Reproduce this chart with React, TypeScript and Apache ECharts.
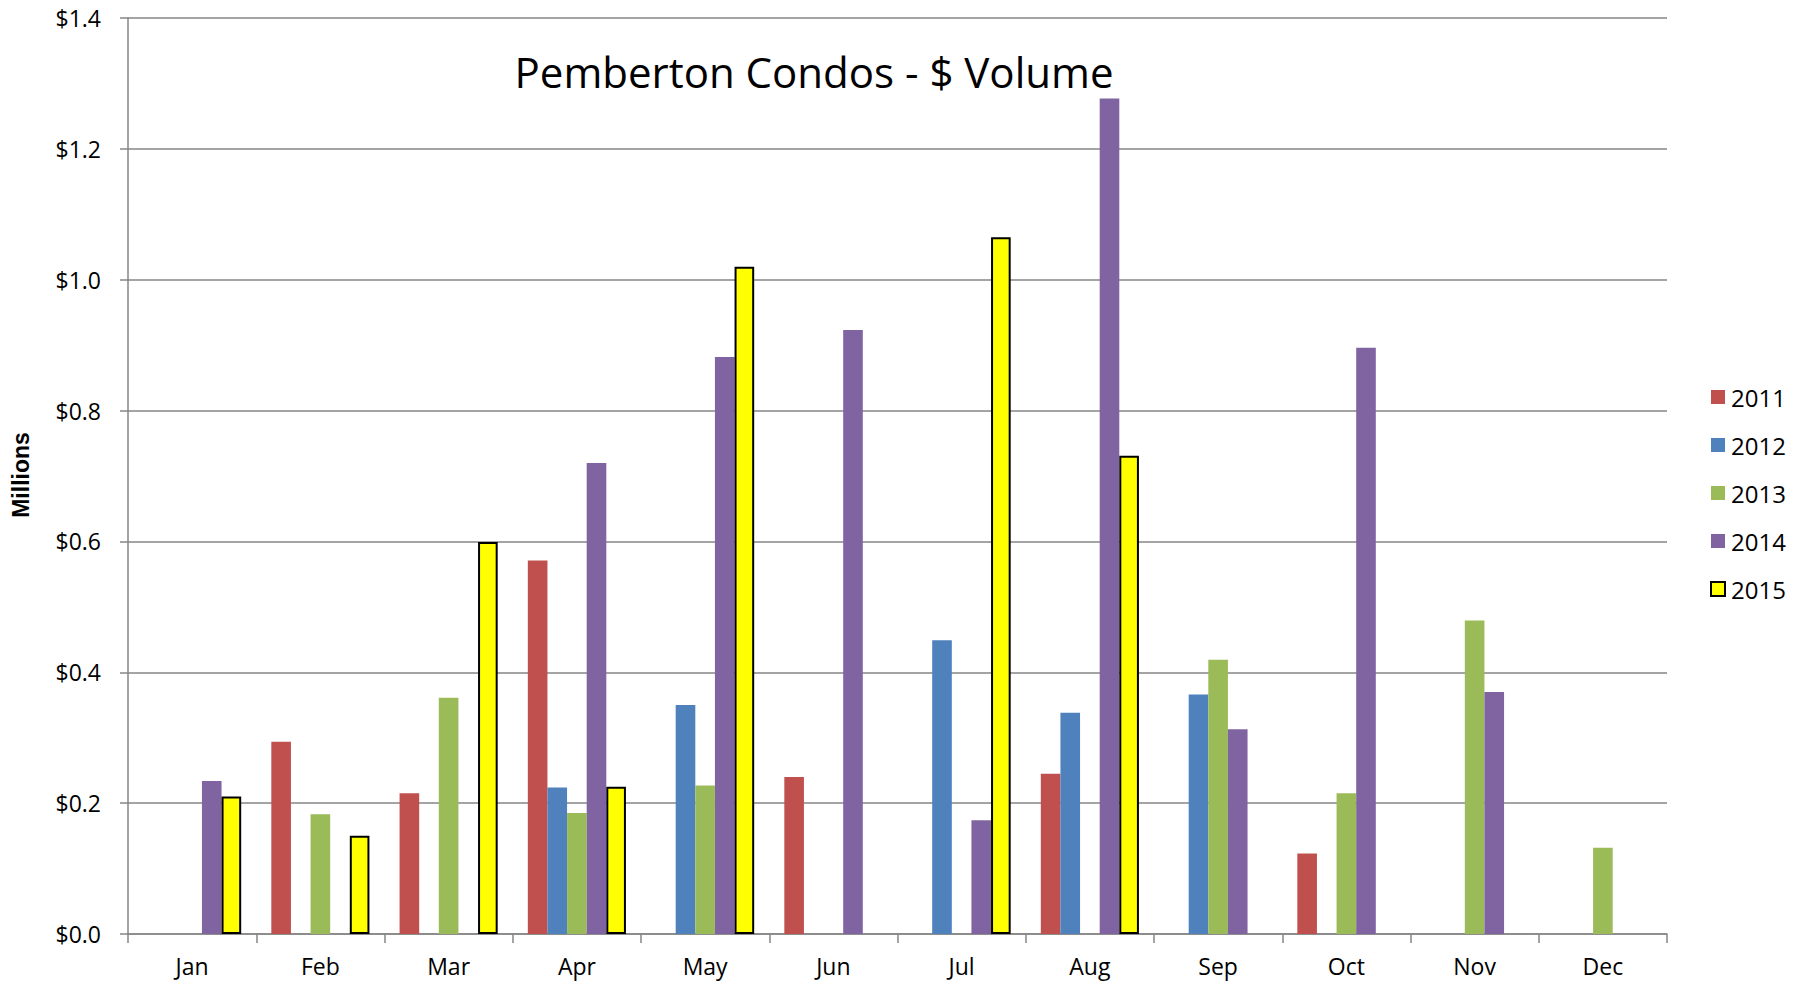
import React, { useEffect, useRef } from "react";
import * as echarts from "echarts";

const months = ["Jan", "Feb", "Mar", "Apr", "May", "Jun", "Jul", "Aug", "Sep", "Oct", "Nov", "Dec"];
const years = ["2011", "2012", "2013", "2014", "2015"];
const v2011 = [null, 0.294, 0.215, 0.571, null, 0.240, null, 0.245, null, 0.123, null, null];
const v2012 = [null, null, null, 0.224, 0.350, null, 0.449, 0.338, 0.366, null, null, null];
const v2013 = [null, 0.183, 0.361, 0.185, 0.227, null, null, null, 0.419, 0.215, 0.479, 0.132];
const v2014 = [0.234, null, null, 0.720, 0.882, 0.923, 0.174, 1.277, 0.313, 0.896, 0.370, null];
const v2015 = [0.210, 0.150, 0.599, 0.225, 1.020, null, 1.065, 0.731, null, null, null, null];
const seriesValues = [v2011, v2012, v2013, v2014, v2015];
const colors = ["#C0504D", "#4F81BD", "#9BBB59", "#8064A2", "#FFFF00"];
const titleText = "Pemberton Condos - $ Volume";
const yAxisTitle = "Millions";

const FONT = "'Open Sans', 'Noto Sans', sans-serif";

export default function App() {
  const ref = useRef<HTMLDivElement>(null);
  useEffect(() => {
    if (!ref.current) return;
    const chart = echarts.init(ref.current, undefined, { renderer: "svg" });
    chart.setOption({
      animation: false,
      backgroundColor: "#ffffff",
      grid: { left: 128, right: 139, top: 18, bottom: 50, containLabel: false },
      legend: {
        orient: "vertical",
        left: 1710,
        top: 385,
        padding: 0,
        itemWidth: 14,
        itemHeight: 14,
        itemGap: 24,
        icon: "rect",
        textStyle: { fontFamily: FONT, fontSize: 24, lineHeight: 24, color: "#000", padding: [0, 0, 0, 1] },
        data: years,
      },
      xAxis: {
        type: "category",
        data: months,
        axisLine: { lineStyle: { color: "#868686", width: 1.5 } },
        axisTick: { show: true, length: 9, lineStyle: { color: "#868686", width: 1.5 } },
        axisLabel: { fontFamily: FONT, fontSize: 23, color: "#000", margin: 20 },
      },
      yAxis: {
        type: "value",
        min: 0,
        max: 1.4,
        interval: 0.2,
        axisLine: { show: true, lineStyle: { color: "#868686", width: 1.5 } },
        axisTick: { show: true, length: 8, lineStyle: { color: "#868686", width: 1.5 } },
        splitLine: { lineStyle: { color: "#868686", width: 1.5 } },
        axisLabel: {
          fontFamily: FONT,
          fontSize: 23,
          color: "#000",
          margin: 27,
          formatter: (v: number) => "$" + v.toFixed(1),
        },
      },
      series: years.map((y, i) => ({
        name: y,
        type: "bar",
        data: seriesValues[i],
        barGap: "0%",
        barCategoryGap: "23.5%",
        itemStyle:
          i === 4
            ? { color: colors[i], borderColor: "#000", borderWidth: 2 }
            : { color: colors[i] },
      })),
      graphic: [
        {
          type: "text",
          x: 814,
          y: 71,
          style: {
            text: titleText,
            fontFamily: FONT,
            fontSize: 42,
            fill: "#000",
            textAlign: "center",
            textVerticalAlign: "middle",
          },
        },
        {
          type: "text",
          x: 21,
          y: 475,
          rotation: Math.PI / 2,
          style: {
            text: yAxisTitle,
            fontFamily: "'Liberation Sans', Arial, sans-serif",
            fontWeight: "bold",
            fontSize: 23,
            fill: "#000",
            textAlign: "center",
            textVerticalAlign: "middle",
          },
        },
      ],
    });
    return () => chart.dispose();
  }, []);
  return (
    <div
      ref={ref}
      style={{ position: "fixed", left: 0, top: 0, width: 1806, height: 984 }}
    />
  );
}
